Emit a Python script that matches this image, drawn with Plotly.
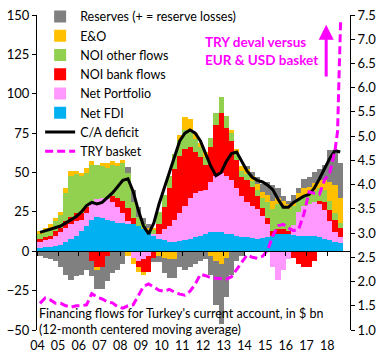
import plotly.graph_objects as go

# quarterly periods 2004Q1 .. 2018Q3
periods = [f"{y}Q{q}" for y in range(2004, 2019) for q in range(1, 5)][:59]
xq = [int(p[:4]) + (int(p[-1]) - 1) * 0.25 + 0.125 for p in periods]

net_fdi = [2, 2.5, 3, 3.5, 4, 6, 8, 10, 13, 16, 20, 22, 21, 20, 19, 18, 18, 17.5, 17, 16,
           14, 12, 10, 8, 7, 6, 6, 6.5, 7, 8, 9, 10, 11, 12, 12, 12, 11, 11, 10, 9,
           9, 8.5, 8, 8.5, 9, 10, 11, 11, 11, 10.5, 10, 10, 10, 9.5, 9, 8, 7, 6, 5]
net_portfolio = [4, 4.5, 5, 6.5, 8, 9, 9, 9, 7, 8, 10, 11, 13, 13, 12, 10, 6, 2, -4, -6,
                 -5, -3, 1, 3, 7, 10, 14, 18, 22, 26, 28, 28, 28, 32, 36, 38, 37, 34, 30, 26,
                 22, 20, 19, 14, 8, -10, -18, -12, -5, 6, 15, 19, 20, 22, 21, 18, 12, 6, 4]
noi_bank = [2, 2, 2, 3, 3, 4, 5, 5, 4, 4, -6, -10, -10, -3, 4, 6, 8, 8, 4, -4,
            -8, -10, -4, 6, 14, 24, 32, 36, 36, 32, 26, 22, 16, 22, 32, 38, 30, 25, 18, 12,
            14, 12, 8, 5, 4, 3, 3, 3, 2, -4, -8, -10, -10, -6, 2, 5, 7, 8, 6]
noi_other = [3, 4, 5, 6, 8, 18, 26, 25, 24, 22, 25, 22, 20, 20, 20, 20, 24, 22, 10, 6,
             3, 2, 3, 8, 8, 8, 10, 10, 12, 10, 8, 6, 5, 6, 8, 10, 8, 5, 4, 4,
             4, 4, 4, 6, 10, 14, 16, 15, 14, 12, 8, 6, 6, 7, 8, 8, 6, 4, 3]
e_and_o = [2, 2, 2, 2, 2, 3, 3, 2, 2, 3, 2, -2, 2, 3, 2, 2, 2, -3, -4, -3,
           -2, 1, 1, -3, -4, -5, -5, 3, 8, 8, 4, 3, 3, -3, -6, -8, -4, 2, 3, 3,
           3, 3, 4, 4, 5, 5, 4, 3, 3, 3, 4, 5, 5, 5, 5, 6, 12, 18, 16]
reserves = [-3, -4, -5, -6, -10, -15, -18, -16, -15, -12, -10, -12, -14, -16, -14, -12, -8, 4, 8, 6,
            4, 2, -3, -4, -10, -12, -12, -10, -12, -10, -8, -6, -5, -12, -28, -38, -25, -15, -6, -3,
            2, 3, 4, 5, 8, 10, 6, 3, 2, 4, 3, 6, 6, 7, 7, 10, 20, 22, 22]
ca_deficit = [12, 13, 14, 15, 16, 18, 20, 22, 25, 29, 31, 30, 31, 34, 37, 41, 45, 46, 38, 26,
              16, 11, 18, 30, 40, 50, 60, 70, 75, 77, 75, 70, 62, 54, 48, 50, 57, 62, 63, 57,
              51, 47, 45, 44, 42, 39, 33, 28, 28, 31, 33, 35, 36, 40, 46, 52, 59, 64, 63]

try_x = xq[:58] + [2018.5, 2018.58, 2018.65]
try_basket = [1.55, 1.66, 1.62, 1.55, 1.55, 1.50, 1.47, 1.50, 1.50, 1.52, 1.75, 1.68,
              1.64, 1.58, 1.56, 1.48, 1.45, 1.50, 1.52, 1.72, 1.90, 1.95, 1.88, 1.82,
              1.80, 1.84, 1.78, 1.74, 1.72, 1.80, 1.95, 2.15, 2.12, 2.08, 2.07, 2.06,
              2.05, 2.10, 2.25, 2.40, 2.55, 2.50, 2.48, 2.52, 2.65, 2.95, 3.15, 3.18,
              3.10, 3.05, 3.08, 3.40, 3.85, 3.82, 3.80, 4.10, 4.25, 4.70, 5.10, 6.40, 7.40]

year_ticks = list(range(2004, 2019))
year_labels = [f"{y % 100:02d}" for y in year_ticks]

FONT = "Lato"
MAG = "#FF00FF"

bar_series = [
    ("Net FDI", net_fdi, "#00B0F0", 6),
    ("Net Portfolio", net_portfolio, "#FF99FF", 5),
    ("NOI bank flows", noi_bank, "#FF0000", 4),
    ("NOI other flows", noi_other, "#92D050", 3),
    ("E&O", e_and_o, "#FFC000", 2),
    ("Reserves (+ = reserve losses)", reserves, "#808080", 1),
]

fig = go.Figure()
for name, vals, col, rank in bar_series:
    fig.add_trace(go.Bar(x=xq, y=vals, name=name, width=0.25,
                         marker=dict(color=col, line=dict(width=0)),
                         legendrank=rank))
fig.add_trace(go.Scatter(x=xq, y=ca_deficit, name="C/A deficit", mode="lines",
                         line=dict(color="black", width=3), legendrank=7))
fig.add_trace(go.Scatter(x=try_x, y=try_basket, name="TRY basket", mode="lines",
                         line=dict(color=MAG, width=3, dash="8px,4px"), yaxis="y2",
                         legendrank=8))
# invisible trace to activate the zero-line tick axis
fig.add_trace(go.Scatter(x=[2004], y=[0], xaxis="x2", mode="markers",
                         marker=dict(opacity=0), showlegend=False, hoverinfo="skip"))

fig.update_layout(
    width=384, height=360,
    margin=dict(l=37, r=34, t=15, b=30, autoexpand=False),
    barmode="relative", bargap=0,
    paper_bgcolor="white", plot_bgcolor="white",
    font=dict(family=FONT, size=13, color="black"),
    showlegend=True,
    legend=dict(x=0.01, y=1.042, xanchor="left", yanchor="top",
                bgcolor="rgba(0,0,0,0)", font=dict(size=12.5), tracegroupgap=0,
                itemwidth=30),
    xaxis=dict(range=[2003.98, 2019.1], tickvals=year_ticks, ticktext=year_labels,
               showgrid=False, showline=False, ticks="", zeroline=False,
               tickfont=dict(size=12.5), ticklabelstandoff=6),
    xaxis2=dict(range=[2003.98, 2019.1], overlaying="x", anchor="free", position=0.25,
                tickvals=year_ticks, showticklabels=False, showgrid=False,
                showline=True, linecolor="black", linewidth=1,
                ticks="outside", ticklen=4, tickcolor="black"),
    yaxis=dict(range=[-50, 150], tickvals=[-50, -25, 0, 25, 50, 75, 100, 125, 150],
               showgrid=False, zeroline=False, showline=True, linecolor="black",
               ticks="outside", ticklen=4, tickcolor="black", tickfont=dict(size=13)),
    yaxis2=dict(range=[1.0, 7.5], overlaying="y", side="right",
                tickvals=[1.0, 1.5, 2.0, 2.5, 3.0, 3.5, 4.0, 4.5, 5.0, 5.5, 6.0, 6.5, 7.0, 7.5],
                tickformat=".1f", showgrid=False, zeroline=False, showline=True,
                linecolor="black", ticks="outside", ticklen=4, tickcolor="black",
                tickfont=dict(size=13)),
)

fig.add_annotation(x=0.53, y=0.885, xref="paper", yref="paper", xanchor="left",
                   yanchor="middle", align="left", showarrow=False,
                   text="<b>TRY deval versus<br>EUR & USD basket</b>",
                   font=dict(size=13.5, color=MAG, family=FONT))
fig.add_annotation(x=2017.95, y=7.3, ax=2017.95, ay=6.2, xref="x", yref="y2",
                   axref="x", ayref="y2", showarrow=True, arrowhead=2,
                   arrowsize=1, arrowwidth=3, arrowcolor=MAG, text="")
fig.add_annotation(x=0.0, y=-0.027, xref="paper", yref="paper", xanchor="left",
                   yanchor="bottom", align="left", showarrow=False,
                   text="Financing flows for Turkey's current account, in $ bn<br>(12-month centered moving average)",
                   font=dict(size=12.5, family=FONT))

fig.write_html("out.html", config={"displayModeBar": False},
               post_script="document.body.style.margin='0';")
